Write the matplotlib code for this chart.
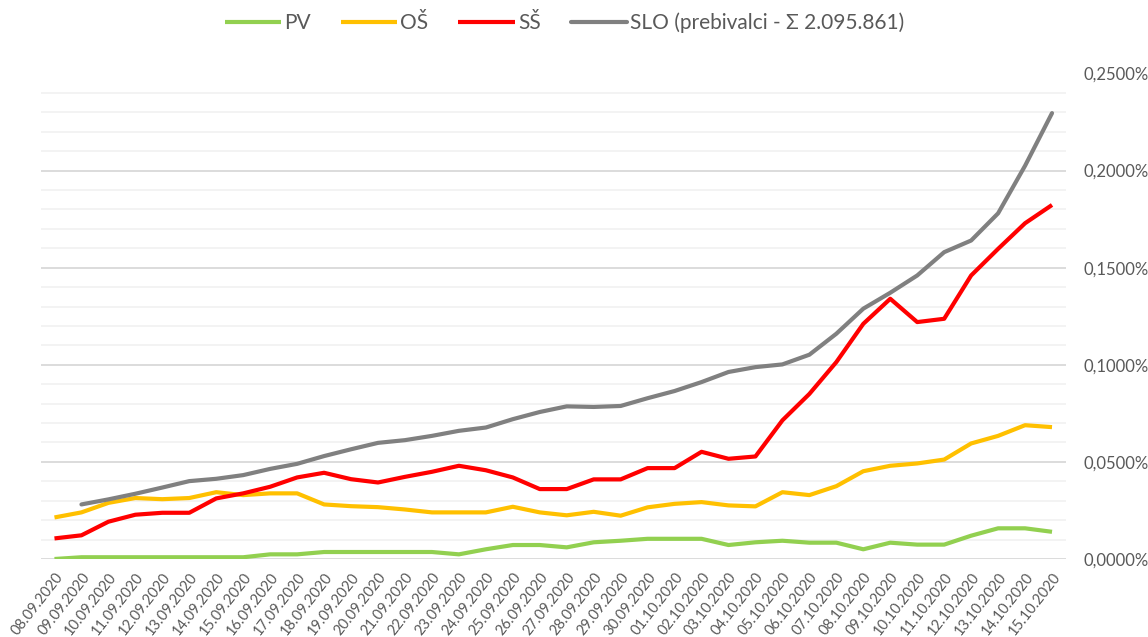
import numpy as np
import matplotlib.pyplot as plt
from matplotlib.ticker import MultipleLocator, FuncFormatter

plt.rcParams['font.family'] = ['Lato', 'DejaVu Sans']

# dates on the x axis
dates = ['08.09.2020', '09.09.2020', '10.09.2020', '11.09.2020', '12.09.2020',
         '13.09.2020', '14.09.2020', '15.09.2020', '16.09.2020', '17.09.2020',
         '18.09.2020', '19.09.2020', '20.09.2020', '21.09.2020', '22.09.2020',
         '23.09.2020', '24.09.2020', '25.09.2020', '26.09.2020', '27.09.2020',
         '28.09.2020', '29.09.2020', '30.09.2020', '01.10.2020', '02.10.2020',
         '03.10.2020', '04.10.2020', '05.10.2020', '06.10.2020', '07.10.2020',
         '08.10.2020', '09.10.2020', '10.10.2020', '11.10.2020', '12.10.2020',
         '13.10.2020', '14.10.2020', '15.10.2020']

# values in percent
pv = [0.0000, 0.0009, 0.0009, 0.0009, 0.0009, 0.0009, 0.0009, 0.0009, 0.0024, 0.0024,
      0.0036, 0.0036, 0.0036, 0.0036, 0.0036, 0.0024, 0.0050, 0.0072, 0.0072, 0.0060,
      0.0086, 0.0094, 0.0104, 0.0104, 0.0104, 0.0072, 0.0086, 0.0094, 0.0084, 0.0084,
      0.0050, 0.0084, 0.0074, 0.0074, 0.0120, 0.0158, 0.0158, 0.0140]
os_ = [0.0214, 0.0240, 0.0289, 0.0314, 0.0308, 0.0314, 0.0344, 0.0329, 0.0338, 0.0338,
       0.0281, 0.0272, 0.0267, 0.0255, 0.0240, 0.0240, 0.0240, 0.0269, 0.0240, 0.0225,
       0.0243, 0.0223, 0.0266, 0.0284, 0.0293, 0.0276, 0.0271, 0.0344, 0.0329, 0.0375,
       0.0452, 0.0480, 0.0492, 0.0512, 0.0595, 0.0634, 0.0689, 0.0679]
ss = [0.0106, 0.0122, 0.0192, 0.0228, 0.0238, 0.0238, 0.0312, 0.0338, 0.0372, 0.0420,
      0.0444, 0.0411, 0.0394, 0.0423, 0.0449, 0.0480, 0.0457, 0.0420, 0.0360, 0.0360,
      0.0410, 0.0410, 0.0468, 0.0468, 0.0552, 0.0516, 0.0528, 0.0714, 0.0850, 0.1014,
      0.1211, 0.1340, 0.1220, 0.1237, 0.1460, 0.1597, 0.1729, 0.1823]
slo = [np.nan, 0.0281, 0.0307, 0.0336, 0.0368, 0.0401, 0.0413, 0.0432, 0.0464, 0.0490,
       0.0530, 0.0565, 0.0598, 0.0612, 0.0634, 0.0660, 0.0677, 0.0720, 0.0757, 0.0786,
       0.0783, 0.0788, 0.0828, 0.0865, 0.0911, 0.0963, 0.0988, 0.1002, 0.1052, 0.1160,
       0.1289, 0.1371, 0.1460, 0.1580, 0.1640, 0.1780, 0.2025, 0.2296]

labels = ['PV', 'OŠ', 'SŠ', 'SLO (prebivalci - Σ 2.095.861)']
colors = ['#92D050', '#FFC000', '#FF0000', '#808080']

fig = plt.figure(figsize=(11.48, 6.37), dpi=100)
ax = fig.add_axes([41 / 1148, 1 - 559 / 637, (1065.5 - 41) / 1148, (559 - 73.5) / 637])

x = np.arange(len(dates))
for series, lab, col in zip([pv, os_, ss, slo], labels, colors):
    cap = 'round' if lab.startswith('SLO') else 'butt'
    ax.plot(x, series, color=col, lw=3, label=lab, solid_capstyle=cap, zorder=3)

ax.set_xlim(-0.5, len(dates) - 0.5)
ax.set_ylim(0, 0.25)
ax.yaxis.set_major_locator(MultipleLocator(0.05))
ax.yaxis.set_minor_locator(MultipleLocator(0.01))
ax.yaxis.set_major_formatter(FuncFormatter(lambda v, p: f'{v:.4f}%'.replace('.', ',')))
ax.yaxis.tick_right()
ax.grid(axis='y', which='major', color='#D9D9D9', lw=1.3, zorder=0)
ax.grid(axis='y', which='minor', color='#F2F2F2', lw=1.3, zorder=0)
ax.set_axisbelow(True)
for s in ax.spines.values():
    s.set_visible(False)

ax.set_xticks(x)
ax.set_xticklabels(dates, rotation=52, ha='right', rotation_mode='anchor')
ax.tick_params(axis='x', length=0, pad=8, labelsize=10.5, labelcolor='#595959')
ax.tick_params(axis='y', which='both', length=0, pad=13, labelsize=12, labelcolor='#595959')

fig.legend(loc='upper center', bbox_to_anchor=(0.4917, 1.01), ncol=4, frameon=False,
           fontsize=15, handlelength=2.7, handletextpad=0.15, columnspacing=1.45,
           labelcolor='#595959')

fig.savefig('out.png', dpi=100)
